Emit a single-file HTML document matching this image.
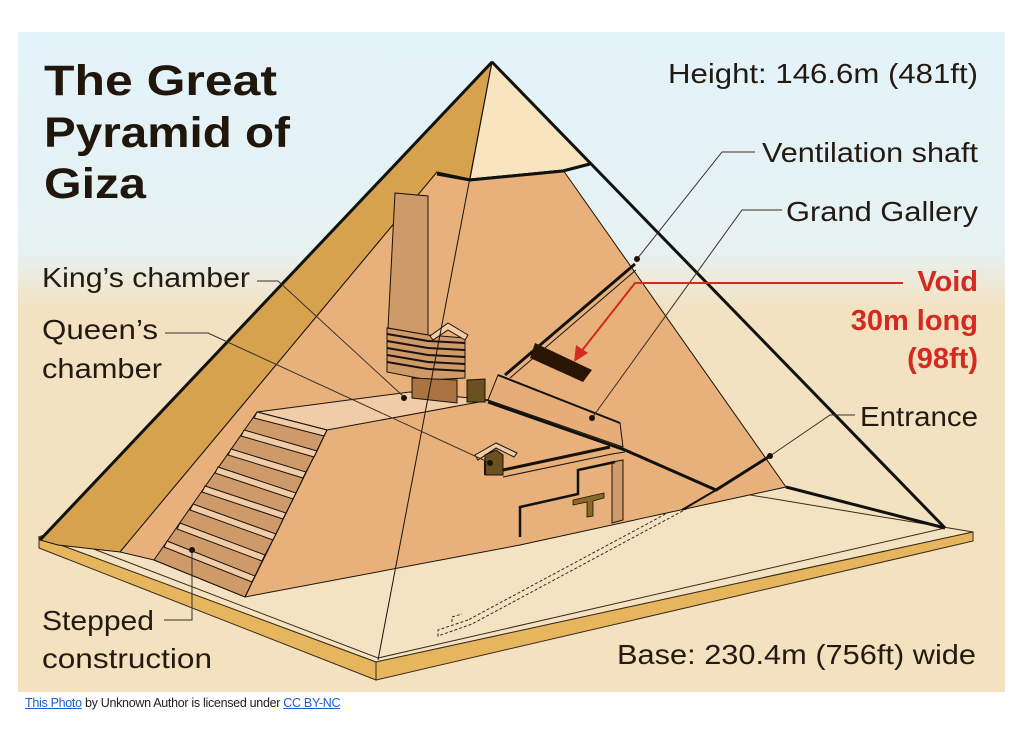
<!DOCTYPE html>
<html><head><meta charset="utf-8"><style>
html,body{margin:0;padding:0;background:#fff;width:1024px;height:741px;overflow:hidden}
svg{display:block}
.lb{font-family:"Liberation Sans",sans-serif;font-size:28px;fill:#231a12}
.ld{stroke:#3a3028;stroke-width:1;fill:none}
.cap{position:absolute;left:25px;top:696px;font-family:"Liberation Sans",sans-serif;font-size:12.5px;color:#222;letter-spacing:-0.3px}
.cap a{color:#1a5fd0;text-decoration:underline}
</style></head><body>
<svg width="1024" height="741" viewBox="0 0 1024 741" xmlns="http://www.w3.org/2000/svg">
<defs>
<linearGradient id="bg" x1="0" y1="32" x2="0" y2="692" gradientUnits="userSpaceOnUse">
<stop offset="0" stop-color="#e3f3fa"/>
<stop offset="0.33" stop-color="#e6f2f2"/>
<stop offset="0.42" stop-color="#f3e2c2"/>
<stop offset="1" stop-color="#f3e1bf"/>
</linearGradient>
</defs>
<rect x="18" y="32" width="987" height="660" fill="url(#bg)"/>
<!-- platform -->
<polygon points="39,537 376,662 973,532 600,470 200,470" fill="#f4e3c3" stroke="#3a2a18" stroke-width="1"/>
<polygon points="39,537 376,662 376,680 39,548" fill="#e6b65f" stroke="#3a2a18" stroke-width="1"/>
<polygon points="376,662 973,532 973,541 376,680" fill="#e6b65f" stroke="#3a2a18" stroke-width="1"/>
<polyline points="57,535 378,658 945,528" fill="none" stroke="#3a2a18" stroke-width="1"/>
<!-- dashed descending passage -->
<path d="M714,488 L468,620 M718,492 L472,624" stroke="#3a2a18" stroke-width="1" stroke-dasharray="3,2" fill="none"/>
<path d="M468,620 L438,630 L438,636 L472,624 M452,622 L452,617 L462,614" stroke="#3a2a18" stroke-width="1" stroke-dasharray="3,2" fill="none"/>
<!-- gold left face -->
<polygon points="492,62 40,540 58,545 120,552 437,172 470,179" fill="#d6a24e" stroke="#1a120a" stroke-width="1"/>
<line x1="492" y1="62" x2="40" y2="540" stroke="#111" stroke-width="3"/>
<!-- cap -->
<polygon points="492,62 470,179 563,170 590,163" fill="#f8e4bf" stroke="#1a120a" stroke-width="1"/>
<!-- core -->
<polygon points="437,172 470,179 563,170 786,487 520,545 245,597 154,560 120,552" fill="#e8b17b" stroke="#1a120a" stroke-width="1"/>
<polyline points="437,174 470,180 563,171 590,164" fill="none" stroke="#111" stroke-width="3"/>
<!-- platform top (king level) -->
<polygon points="257,412 410,392 490,400 327,430" fill="#f0cca8" stroke="#1a120a" stroke-width="1"/>
<!-- stairs -->
<g stroke="#1a120a" stroke-width="1">
<polygon points="257,412 327,430 245,597 154,560" fill="#cf9a6a"/>
<polygon points="257,412 327,430 324,436 254,418" fill="#f0cca8"/>
<polygon points="244,430 317,451 314,457 241,436" fill="#f0cca8"/>
<polygon points="231,449 306,472 303,478 228,455" fill="#f0cca8"/>
<polygon points="218,467 296,493 293,499 215,473" fill="#f0cca8"/>
<polygon points="205,486 286,513 283,519 202,492" fill="#f0cca8"/>
<polygon points="193,504 276,534 273,540 190,510" fill="#f0cca8"/>
<polygon points="180,523 265,555 262,561 177,529" fill="#f0cca8"/>
<polygon points="167,541 255,576 252,582 164,547" fill="#f0cca8"/>
<polyline points="327,430 317,451 306,472 296,493 286,513 276,534 265,555 255,576 245,597" fill="none"/>
</g>
<!-- relieving chamber column -->
<g stroke="#1a120a" stroke-width="1">
<polygon points="395,193 428,196 428,335 388,328" fill="#cf9a6a"/>
<polygon points="387,328 428,335 465,338 465,378 428,380 387,372" fill="#cf9a6a"/>
<path d="M387,334 L428,341 L465,343 M387,341 L428,348 L465,350 M387,348 L428,355 L465,357 M387,355 L428,362 L465,364 M387,362 L428,369 L465,371" fill="none" stroke-width="2"/>
<polygon points="430,336 448,323 468,335 465,340 448,330 433,340" fill="#f0cca8"/>
<polygon points="412,378 457,380 457,403 412,398" fill="#a97441"/>
<polygon points="467,380 485,379 485,402 467,402" fill="#6b5020"/>
</g>
<!-- grand gallery -->
<polygon points="498,375 620,423 623,447 488,400" fill="#e6ad78" stroke="#1a120a" stroke-width="1"/>
<line x1="505" y1="375" x2="635" y2="264" stroke="#111" stroke-width="3"/>
<line x1="510" y1="378" x2="636" y2="270" stroke="#1a120a" stroke-width="1"/>
<line x1="498" y1="375" x2="620" y2="423" stroke="#111" stroke-width="2"/>
<polyline points="488,402 625,450 716,490 770,456" fill="none" stroke="#111" stroke-width="3"/>
<line x1="716" y1="490" x2="682" y2="510" stroke="#111" stroke-width="2"/>
<!-- void -->
<polygon points="535,343 592,370 583,382 530,358" fill="#2a1503"/>
<!-- queen's chamber -->
<g stroke="#1a120a" stroke-width="1">
<polygon points="475,455 496,443 517,453 514,457 496,448 478,460" fill="#f0cca8"/>
<polygon points="485,455 496,450 503,455 503,475 485,475" fill="#6b5020"/>
<polyline points="503,470 610,447" fill="none" stroke-width="3"/>
<polyline points="503,477 612,454 625,452" fill="none"/>
<line x1="485" y1="475" x2="485" y2="460" stroke-width="2"/>
</g>
<!-- lower cutout -->
<polygon points="612,462 623,460 623,520 612,523" fill="#cf9a6a" stroke="#1a120a" stroke-width="1"/>
<polyline points="520,537 520,507 578,494 578,470 615,462" fill="none" stroke="#111" stroke-width="2.5"/>
<polygon points="573,500 604,493 604,498 593,501 593,516 587,517 587,502 573,505" fill="#8a6a2a" stroke="#1a120a" stroke-width="0.8"/>
<!-- right face outlines -->
<line x1="492" y1="62" x2="945" y2="528" stroke="#111" stroke-width="3"/>
<line x1="492" y1="62" x2="378" y2="660" stroke="#1a120a" stroke-width="1"/>
<line x1="786" y1="487" x2="945" y2="528" stroke="#111" stroke-width="3"/>
<!-- labels -->
<g font-family="Liberation Sans, sans-serif" font-weight="bold" fill="#21160c" font-size="43">
<text x="44" y="95" textLength="233" lengthAdjust="spacingAndGlyphs">The Great</text>
<text x="44" y="147" textLength="246" lengthAdjust="spacingAndGlyphs">Pyramid of</text>
<text x="44" y="198" textLength="102" lengthAdjust="spacingAndGlyphs">Giza</text>
</g>
<text class="lb" x="668" y="83" textLength="310" lengthAdjust="spacingAndGlyphs">Height: 146.6m (481ft)</text>
<text class="lb" x="762" y="162" textLength="216" lengthAdjust="spacingAndGlyphs">Ventilation shaft</text>
<text class="lb" x="786" y="221" textLength="192" lengthAdjust="spacingAndGlyphs">Grand Gallery</text>
<text class="lb" x="42" y="287" textLength="208" lengthAdjust="spacingAndGlyphs">King’s chamber</text>
<text class="lb" x="42" y="339" textLength="116" lengthAdjust="spacingAndGlyphs">Queen’s</text>
<text class="lb" x="42" y="378" textLength="120" lengthAdjust="spacingAndGlyphs">chamber</text>
<text class="lb" x="860" y="426" textLength="118" lengthAdjust="spacingAndGlyphs">Entrance</text>
<text class="lb" x="42" y="630" textLength="112" lengthAdjust="spacingAndGlyphs">Stepped</text>
<text class="lb" x="42" y="668" textLength="170" lengthAdjust="spacingAndGlyphs">construction</text>
<text class="lb" x="617" y="664" textLength="359" lengthAdjust="spacingAndGlyphs">Base: 230.4m (756ft) wide</text>
<g font-family="Liberation Sans, sans-serif" font-weight="bold" fill="#d42a20" font-size="29" text-anchor="end">
<text x="978" y="291">Void</text>
<text x="978" y="330">30m long</text>
<text x="978" y="368">(98ft)</text>
</g>
<!-- leaders -->
<polyline class="ld" points="257,281 278,281 404,397"/>
<polyline class="ld" points="165,333 208,333 490,463"/>
<polyline class="ld" points="755,152 722,152 637,259"/>
<polyline class="ld" points="782,210 742,210 592,418"/>
<polyline class="ld" points="855,415 830,415 770,456"/>
<polyline class="ld" points="164,620 192,620 192,550"/>
<g fill="#1a120a">
<circle cx="404" cy="398" r="3"/><circle cx="490" cy="463" r="3"/><circle cx="637" cy="259" r="3"/>
<circle cx="592" cy="418" r="3"/><circle cx="770" cy="456" r="3"/><circle cx="192" cy="550" r="3"/>
</g>
<polyline points="903,283 635,283 580,353" fill="none" stroke="#d42a20" stroke-width="2"/>
<polygon points="574,362 576,345 588,353" fill="#d42a20"/>
</svg>
<div class="cap"><a>This Photo</a> by Unknown Author is licensed under <a>CC BY-NC</a></div>
</body></html>
